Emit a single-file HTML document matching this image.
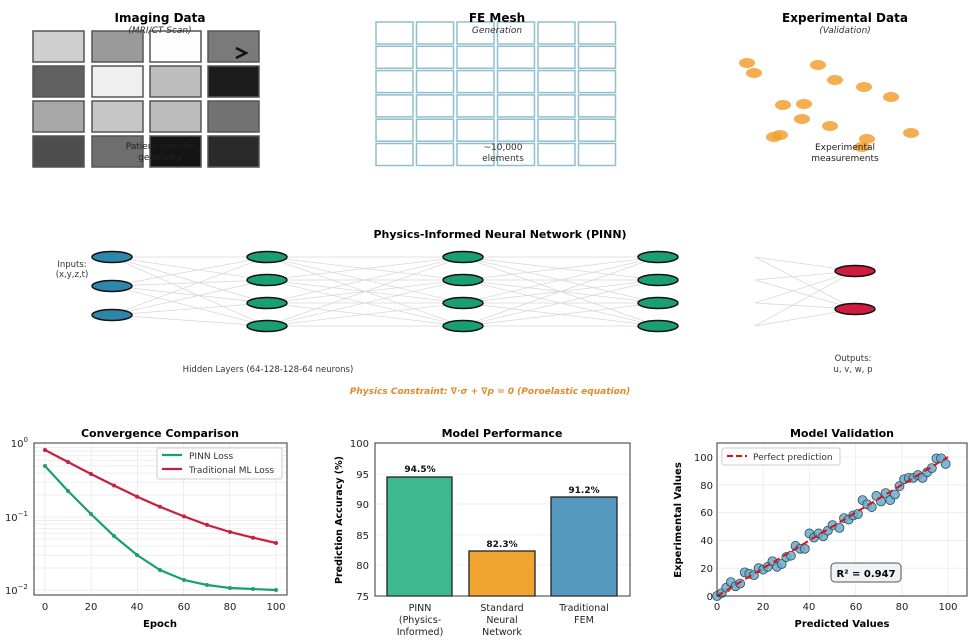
<!DOCTYPE html>
<html><head><meta charset="utf-8"><style>
html,body{margin:0;padding:0;background:#fff;}
svg{display:block;font-family:"DejaVu Sans","Liberation Sans",sans-serif;}
</style></head><body>
<svg id="s" width="973" height="643" viewBox="0 0 973 643" xmlns="http://www.w3.org/2000/svg">
<g id="lines" stroke="#d9d9d9" stroke-width="0.8"></g>
<!-- Imaging -->
<g stroke="#555" stroke-width="1.5">
<rect x="33" y="31" width="51" height="31" fill="#cfcfcf"/><rect x="92" y="31" width="51" height="31" fill="#9a9a9a"/><rect x="150" y="31" width="51" height="31" fill="#fdfdfd"/><rect x="208" y="31" width="51" height="31" fill="#7a7a7a"/>
<rect x="33" y="66" width="51" height="31" fill="#606060"/><rect x="92" y="66" width="51" height="31" fill="#efefef"/><rect x="150" y="66" width="51" height="31" fill="#bdbdbd"/><rect x="208" y="66" width="51" height="31" fill="#1c1c1c"/>
<rect x="33" y="101" width="51" height="31" fill="#a8a8a8"/><rect x="92" y="101" width="51" height="31" fill="#c6c6c6"/><rect x="150" y="101" width="51" height="31" fill="#bcbcbc"/><rect x="208" y="101" width="51" height="31" fill="#727272"/>
<rect x="33" y="136" width="51" height="31" fill="#4e4e4e"/><rect x="92" y="136" width="51" height="31" fill="#6e6e6e"/><rect x="150" y="136" width="51" height="31" fill="#141414"/><rect x="208" y="136" width="51" height="31" fill="#2a2a2a"/>
</g>
<path d="M236,48 L246,53 L236,58" fill="none" stroke="#111" stroke-width="2.5"/>
<text x="160" y="22" font-size="12" font-weight="bold" text-anchor="middle">Imaging Data</text>
<text x="160" y="33" font-size="9" font-style="italic" text-anchor="middle" fill="#333">(MRI/CT Scan)</text>
<text x="160" y="149" font-size="9" text-anchor="middle" fill="#222">Patient-specific</text>
<text x="160" y="160" font-size="9" text-anchor="middle" fill="#222">geometry</text>
<!-- Mesh -->
<g id="mesh" fill="#fff" stroke="#8fbfcc" stroke-width="1.5"></g>
<text x="497" y="22" font-size="12" font-weight="bold" text-anchor="middle">FE Mesh</text>
<text x="497" y="33" font-size="9" font-style="italic" text-anchor="middle" fill="#333">Generation</text>
<text x="503" y="150" font-size="9" text-anchor="middle" fill="#333">~10,000</text>
<text x="503" y="161" font-size="9" text-anchor="middle" fill="#333">elements</text>
<!-- Experimental -->
<g fill="#f0a030" fill-opacity="0.85">
<ellipse cx="747" cy="63" rx="8" ry="5"/><ellipse cx="754" cy="73" rx="8" ry="5"/><ellipse cx="818" cy="65" rx="8" ry="5"/><ellipse cx="835" cy="80" rx="8" ry="5"/><ellipse cx="864" cy="87" rx="8" ry="5"/><ellipse cx="891" cy="97" rx="8" ry="5"/><ellipse cx="783" cy="105" rx="8" ry="5"/><ellipse cx="804" cy="104" rx="8" ry="5"/><ellipse cx="802" cy="119" rx="8" ry="5"/><ellipse cx="830" cy="126" rx="8" ry="5"/><ellipse cx="911" cy="133" rx="8" ry="5"/><ellipse cx="774" cy="137" rx="8" ry="5"/><ellipse cx="780" cy="135" rx="8" ry="5"/><ellipse cx="867" cy="139" rx="8" ry="5"/><ellipse cx="862" cy="147" rx="8" ry="5"/>
</g>
<text x="845" y="22" font-size="12" font-weight="bold" text-anchor="middle">Experimental Data</text>
<text x="845" y="33" font-size="9" font-style="italic" text-anchor="middle" fill="#333">(Validation)</text>
<text x="845" y="150" font-size="9" text-anchor="middle" fill="#222">Experimental</text>
<text x="845" y="161" font-size="9" text-anchor="middle" fill="#222">measurements</text>
<!-- PINN -->
<text x="500" y="238" font-size="11" font-weight="bold" text-anchor="middle">Physics-Informed Neural Network (PINN)</text>
<g id="nodes" stroke="#111" stroke-width="1.5"></g>
<text x="72" y="267" font-size="8.5" text-anchor="middle" fill="#333">Inputs:</text>
<text x="72" y="277" font-size="8.5" text-anchor="middle" fill="#333">(x,y,z,t)</text>
<text x="268" y="372" font-size="8.5" text-anchor="middle" fill="#333">Hidden Layers (64-128-128-64 neurons)</text>
<text x="853" y="361" font-size="8.5" text-anchor="middle" fill="#333">Outputs:</text>
<text x="853" y="372" font-size="8.5" text-anchor="middle" fill="#333">u, v, w, p</text>
<text x="490" y="394" font-size="9" font-weight="bold" font-style="italic" text-anchor="middle" fill="#e08a2a">Physics Constraint: ∇·σ + ∇p = 0  (Poroelastic equation)</text>

<!-- Convergence -->
<g stroke="#e6e6e6" stroke-width="0.7" id="cgrid"></g>
<text x="160" y="437" font-size="11" font-weight="bold" text-anchor="middle">Convergence Comparison</text>
<polyline fill="none" stroke="#c8203f" stroke-width="2.2" points="45,450 68,462 91,474 114,485.5 137,496.6 160,506.8 184,516.4 207,524.9 230,532 253,537.7 276,543"/>
<polyline fill="none" stroke="#1a9e74" stroke-width="2.2" points="45,466 68,491 91,514 114,536 137,555 160,570 184,580 207,585 230,588 253,589 276,590"/>
<g fill="#c8203f"><circle cx="45" cy="450" r="2"/><circle cx="68" cy="462" r="2"/><circle cx="91" cy="474" r="2"/><circle cx="114" cy="485.5" r="2"/><circle cx="137" cy="496.6" r="2"/><circle cx="160" cy="506.8" r="2"/><circle cx="184" cy="516.4" r="2"/><circle cx="207" cy="524.9" r="2"/><circle cx="230" cy="532" r="2"/><circle cx="253" cy="537.7" r="2"/><circle cx="276" cy="543" r="2"/></g>
<g fill="#1a9e74"><circle cx="45" cy="466" r="2"/><circle cx="68" cy="491" r="2"/><circle cx="91" cy="514" r="2"/><circle cx="114" cy="536" r="2"/><circle cx="137" cy="555" r="2"/><circle cx="160" cy="570" r="2"/><circle cx="184" cy="580" r="2"/><circle cx="207" cy="585" r="2"/><circle cx="230" cy="588" r="2"/><circle cx="253" cy="589" r="2"/><circle cx="276" cy="590" r="2"/></g>
<rect x="34" y="443" width="253" height="152" fill="none" stroke="#333" stroke-width="1"/>
<rect x="157" y="448" width="125" height="31" fill="#fff" fill-opacity="0.9" stroke="#ccc" rx="2"/>
<line x1="162" y1="455" x2="182" y2="455" stroke="#1a9e74" stroke-width="2.2"/>
<line x1="162" y1="469" x2="182" y2="469" stroke="#c8203f" stroke-width="2.2"/>
<text x="189" y="459" font-size="9" fill="#333">PINN Loss</text>
<text x="189" y="473" font-size="9" fill="#333">Traditional ML Loss</text>
<g font-size="10" fill="#222" text-anchor="middle">
<text x="45" y="610">0</text><text x="91" y="610">20</text><text x="137" y="610">40</text><text x="184" y="610">60</text><text x="230" y="610">80</text><text x="276" y="610">100</text>
</g>
<g font-size="10" fill="#222" text-anchor="end">
<text x="28" y="447">10<tspan font-size="7" dy="-5">0</tspan></text>
<text x="28" y="521">10<tspan font-size="7" dy="-5">−1</tspan></text>
<text x="28" y="594">10<tspan font-size="7" dy="-5">−2</tspan></text>
</g>
<text x="160" y="627" font-size="10" font-weight="bold" text-anchor="middle">Epoch</text>

<!-- Bars -->
<g stroke="#ececec" stroke-width="0.8"><line x1="375" y1="474" x2="630" y2="474"/><line x1="375" y1="504" x2="630" y2="504"/><line x1="375" y1="535" x2="630" y2="535"/><line x1="375" y1="565" x2="630" y2="565"/></g>
<text x="502" y="437" font-size="11" font-weight="bold" text-anchor="middle">Model Performance</text>
<g stroke="#222" stroke-width="1.3">
<rect x="387" y="477" width="65" height="119" fill="#3cb98f"/>
<rect x="469" y="551" width="66" height="45" fill="#f0a530"/>
<rect x="551" y="497" width="66" height="99" fill="#5599bf"/>
</g>
<rect x="375" y="443" width="255" height="153" fill="none" stroke="#333"/>
<g font-size="9" font-weight="bold" text-anchor="middle" fill="#111">
<text x="420" y="472">94.5%</text><text x="502" y="547">82.3%</text><text x="584" y="493">91.2%</text>
</g>
<g font-size="10" fill="#222" text-anchor="end">
<text x="369" y="447">100</text><text x="369" y="478">95</text><text x="369" y="508">90</text><text x="369" y="539">85</text><text x="369" y="569">80</text><text x="369" y="600">75</text>
</g>
<g font-size="9.5" fill="#222" text-anchor="middle">
<text x="420" y="611">PINN</text><text x="420" y="623">(Physics-</text><text x="420" y="635">Informed)</text>
<text x="502" y="611">Standard</text><text x="502" y="623">Neural</text><text x="502" y="635">Network</text>
<text x="584" y="611">Traditional</text><text x="584" y="623">FEM</text>
</g>
<text transform="translate(342,520) rotate(-90)" font-size="9.5" font-weight="bold" text-anchor="middle">Prediction Accuracy (%)</text>

<!-- Validation -->
<g stroke="#ececec" stroke-width="0.8" id="vgrid"></g>
<text x="842" y="437" font-size="11" font-weight="bold" text-anchor="middle">Model Validation</text>
<g id="pts" fill="#6aaccc" fill-opacity="0.85" stroke="#2a4a5a" stroke-width="0.8"></g>
<line x1="717" y1="596" x2="948" y2="457" stroke="#e01010" stroke-width="2" stroke-dasharray="7,4"/>
<rect x="717" y="443" width="250" height="153" fill="none" stroke="#333"/>
<rect x="722" y="448" width="118" height="17" fill="#fff" stroke="#ccc" rx="2"/>
<line x1="727" y1="456" x2="747" y2="456" stroke="#e01010" stroke-width="2" stroke-dasharray="6,3"/>
<text x="753" y="460" font-size="9" fill="#333">Perfect prediction</text>
<rect x="831" y="563" width="70" height="19" rx="4" fill="#eef3f6" stroke="#555"/>
<text x="866" y="577" font-size="10" font-weight="bold" text-anchor="middle">R² = 0.947</text>
<g font-size="10" fill="#222" text-anchor="middle">
<text x="717" y="610">0</text><text x="763" y="610">20</text><text x="809" y="610">40</text><text x="856" y="610">60</text><text x="902" y="610">80</text><text x="948" y="610">100</text>
</g>
<g font-size="10" fill="#222" text-anchor="end">
<text x="713" y="600">0</text><text x="713" y="572">20</text><text x="713" y="544">40</text><text x="713" y="516">60</text><text x="713" y="489">80</text><text x="713" y="461">100</text>
</g>
<text x="842" y="627" font-size="10" font-weight="bold" text-anchor="middle">Predicted Values</text>
<text transform="translate(681,520) rotate(-90)" font-size="10" font-weight="bold" text-anchor="middle">Experimental Values</text>
</svg>
<script>
var NS="http://www.w3.org/2000/svg";
function el(p,t,a){var e=document.createElementNS(NS,t);for(var k in a)e.setAttribute(k,a[k]);document.getElementById(p).appendChild(e);return e;}
// mesh
for(var i=0;i<6;i++)for(var j=0;j<6;j++)el("mesh","rect",{x:376+i*40.5,y:22+j*24.3,width:37,height:22});
// network
var L=[[112,[257,286,315]],[267,[257,280,303,326]],[463,[257,280,303,326]],[658,[257,280,303,326]]];
for(var l=0;l<3;l++)L[l][1].forEach(function(a){L[l+1][1].forEach(function(b){el("lines","line",{x1:L[l][0],y1:a,x2:L[l+1][0],y2:b});});});
[257,280,303,326].forEach(function(a){[271,309].forEach(function(b){el("lines","line",{x1:755,y1:a,x2:855,y2:b});});});
L.forEach(function(c,k){c[1].forEach(function(y){el("nodes","ellipse",{cx:c[0],cy:y,rx:20,ry:5.5,fill:k==0?"#2e86ab":"#1a9e74"});});});
[271,309].forEach(function(y){el("nodes","ellipse",{cx:855,cy:y,rx:20,ry:5.5,fill:"#d01c3f"});});
// conv grid
[0,20,40,60,80,100].forEach(function(v){var x=45+v*2.31;el("cgrid","line",{x1:x,y1:443,x2:x,y2:595});});
for(var d=0;d<2;d++)for(var m=1;m<10;m++){var y=590-73*d-73*Math.log10(m);el("cgrid","line",{x1:34,y1:y,x2:287,y2:y});}
// val grid
[0,20,40,60,80,100].forEach(function(v){var x=717+v*2.31;el("vgrid","line",{x1:x,y1:443,x2:x,y2:596});var y=596-v*1.39;el("vgrid","line",{x1:717,y1:y,x2:967,y2:y});});
// points
var P=[[0,0],[2,2],[4,6],[6,10],[8,7],[10,9],[12,17],[14,16],[16,15],[18,20],[20,19],[22,21],[24,25],[26,21],[28,23],[30,28],[32,29],[34,36],[36,34],[38,34],[40,45],[42,42],[44,45],[46,43],[48,47],[50,51],[53,49],[55,56],[57,55],[59,58],[61,59],[63,69],[65,66],[67,64],[69,72],[71,68],[73,74],[75,69],[77,73],[79,79],[81,84],[83,85],[85,85],[87,87],[89,85],[91,89],[93,92],[95,99],[97,99],[99,95]];
P.forEach(function(p){el("pts","circle",{cx:717+p[0]*2.31,cy:596-p[1]*1.39,r:4.5});});
</script>
</body></html>
